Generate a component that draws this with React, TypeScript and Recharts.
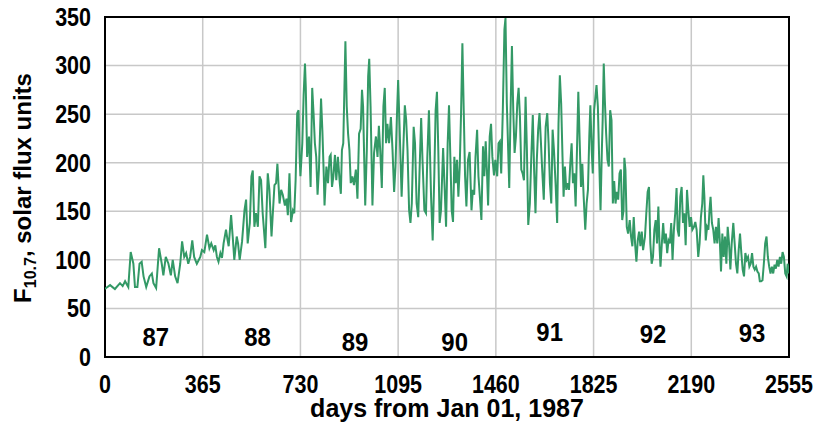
import {
  CartesianGrid,
  Line,
  LineChart,
  ReferenceArea,
  ReferenceDot,
  XAxis,
  YAxis,
} from "recharts";

// day index from Jan 01, 1987 and F10.7 flux
const days = [
  0, 4, 19, 37, 56, 66, 75, 87, 96, 106, 112, 121, 129, 137, 144, 154, 166, 175, 181, 191,
  202, 212, 218, 227, 237, 246, 253, 262, 271, 281, 288, 296, 303, 311, 318, 326, 333, 343, 356, 362,
  371, 381, 390, 397, 406,
  412, 418, 424, 431, 437, 443, 452, 458, 462, 471, 477, 483, 492, 497, 503, 512, 521, 527, 533, 541,
  547, 552, 558, 564, 571, 577, 583, 589, 599, 608, 614, 622, 633, 639, 644, 652, 658, 664, 672, 678,
  683, 689, 695, 702, 707, 712, 718, 723, 727, 730, 737, 742, 747, 750, 755, 762, 768, 774, 779, 784,
  789, 794, 799, 807, 812, 817, 820, 827, 833, 839,
  843, 848, 853, 859, 864, 870, 877, 881, 885, 890, 898, 903, 908, 913, 918, 924, 930, 937, 943, 949,
  955, 960, 964, 972, 978, 983, 987, 992, 999, 1005, 1012, 1018, 1023, 1028, 1034, 1040, 1045, 1050, 1055, 1061,
  1068, 1074, 1080, 1085, 1090, 1095, 1100, 1108, 1115, 1120, 1125, 1130, 1136, 1141, 1146, 1153, 1158, 1164, 1170, 1175,
  1181, 1186, 1193, 1199, 1204, 1210, 1218, 1224, 1230, 1235, 1240, 1245, 1250, 1255, 1263, 1268,
  1274, 1280, 1285, 1290, 1295, 1300, 1305, 1310, 1315, 1320, 1325, 1330, 1335, 1340, 1345, 1350, 1356, 1362, 1369, 1374,
  1379, 1384, 1390, 1395, 1401, 1406, 1412, 1417, 1422, 1427, 1431, 1437, 1442, 1447, 1453, 1458, 1465, 1470, 1475, 1480,
  1486, 1492, 1496, 1501, 1506, 1510, 1515, 1520, 1525, 1530, 1535, 1540, 1545, 1550, 1555, 1560, 1565, 1571, 1576, 1581,
  1587, 1592, 1598, 1603, 1608, 1613, 1618, 1623, 1628, 1633, 1639, 1646, 1652, 1657, 1662, 1667, 1672, 1677, 1683, 1689,
  1694, 1699, 1704, 1709,
  1713, 1718, 1723, 1728, 1733, 1738, 1743, 1748, 1753, 1758, 1763, 1768, 1773, 1778, 1783, 1788, 1794, 1799, 1804, 1809,
  1813, 1818, 1822, 1827, 1832, 1836, 1841, 1846, 1851, 1856, 1859, 1863, 1867, 1872, 1877, 1882, 1887, 1892, 1897, 1902,
  1907, 1912, 1917, 1922, 1927, 1932, 1937, 1940, 1944, 1949, 1954, 1960, 1965, 1970, 1975, 1980, 1985, 1990, 1995, 2000,
  2005, 2010, 2017, 2022, 2027, 2032, 2037, 2042, 2047, 2052, 2057, 2062, 2067, 2072, 2075, 2080, 2085, 2090, 2095, 2100,
  2105, 2110, 2115, 2120, 2125, 2130, 2135,
  2139, 2144, 2149, 2154, 2159, 2164, 2169, 2174, 2179, 2184, 2189, 2194, 2200, 2205, 2210, 2216, 2221, 2226, 2231, 2235,
  2239, 2244, 2249, 2254, 2258, 2262, 2267, 2272, 2277, 2282, 2287, 2292, 2297, 2301, 2306, 2311, 2316, 2321, 2326, 2331,
  2336, 2341, 2347, 2352, 2357, 2362, 2367, 2372, 2377, 2382, 2387, 2392, 2397, 2402, 2407, 2412, 2417, 2422, 2427, 2432,
  2437, 2442, 2446, 2451, 2456, 2461, 2466, 2471, 2476, 2481, 2486, 2491, 2496, 2501, 2506, 2511, 2516, 2521, 2526, 2531,
  2536, 2541, 2546, 2550, 2555,
];

const flux = [
  70, 71, 74, 70, 76, 73, 78, 72, 108, 96, 72, 72, 96, 98, 83, 72, 83, 86, 76, 71,
  112, 96, 84, 103, 96, 84, 100, 83, 76, 96, 119, 103, 107, 96, 103, 120, 103, 96, 103, 110,
  108, 126, 112, 117, 110,
  115, 103, 98, 107, 102, 117, 131, 120, 114, 146, 124, 100, 124, 117, 100, 119, 151, 162, 117, 138,
  186, 192, 134, 148, 134, 186, 182, 148, 112, 189, 172, 124, 177, 179, 199, 158, 172, 167, 156, 163,
  146, 189, 139, 151, 148, 182, 251, 254, 206, 186, 220, 270, 302, 278, 206, 227, 175, 277, 251, 220,
  206, 167, 192, 266, 233, 189, 156, 196, 179, 206,
  208, 175, 186, 208, 182, 206, 179, 168, 213, 220, 325, 258, 230, 213, 179, 186, 177, 193, 163, 230,
  235, 275, 258, 156, 213, 289, 307, 258, 156, 210, 227, 206, 238, 213, 174, 258, 277, 220, 240, 220,
  247, 213, 170, 196, 244, 285, 240, 165, 220, 259, 244, 213, 151, 138, 158, 237, 220, 158, 144, 192,
  246, 203, 151, 148, 206, 254, 165, 120, 186, 254, 273, 213, 138, 151, 215, 179,
  134, 220, 259, 206, 151, 139, 206, 179, 203, 165, 196, 251, 323, 254, 186, 155, 203, 211, 151, 172,
  167, 206, 234, 186, 162, 141, 217, 186, 222, 189, 156, 227, 240, 206, 187, 203, 186, 220, 222, 189,
  254, 337, 349, 261, 213, 174, 254, 320, 254, 210, 227, 261, 277, 247, 193, 189, 182, 268, 213, 136,
  158, 203, 249, 192, 148, 203, 234, 251, 223, 193, 162, 237, 251, 220, 179, 158, 234, 213, 179, 138,
  240, 290, 261, 206,
  165, 196, 172, 179, 172, 199, 220, 179, 189, 155, 213, 273, 223, 175, 199, 165, 131, 158, 172, 227,
  259, 213, 189, 254, 268, 280, 258, 203, 151, 213, 244, 302, 265, 230, 203, 196, 254, 244, 158, 181,
  158, 170, 162, 189, 193, 141, 151, 205, 193, 134, 127, 141, 124, 114, 144, 117, 98, 120, 129, 114,
  129, 110, 124, 148, 170, 175, 117, 96, 103, 131, 141, 117, 155, 110, 93, 117, 138, 117, 127, 107,
  120, 117, 138, 100, 131, 148, 174,
  131, 124, 165, 175, 138, 148, 115, 172, 151, 134, 144, 131, 134, 139, 131, 103, 117, 144, 158, 187,
  165, 120, 134, 131, 151, 165, 138, 131, 117, 134, 117, 143, 117, 88, 127, 103, 124, 96, 134, 117,
  90, 117, 138, 117, 96, 86, 110, 127, 107, 90, 83, 107, 100, 103, 93, 96, 107, 93, 90, 93,
  88, 86, 78, 78, 79, 96, 117, 124, 103, 93, 86, 93, 86, 95, 91, 100, 93, 103, 96, 108,
  103, 86, 83, 96, 86,
];

const xTicks = [0, 365, 730, 1095, 1460, 1825, 2190, 2555];
const yTicks = [0, 50, 100, 150, 200, 250, 300, 350];

const yearNames = ["87", "88", "89", "90", "91", "92", "93"];
const yearLabelDay = [190, 570, 934, 1306, 1661, 2047, 2417];
const yearLabelFlux = [21, 21, 16, 16, 26, 24, 25];

const data = days.map((day, i) => ({ day, flux: flux[i] }));

const FONT = '"Liberation Sans", Arial, sans-serif';
// reference uses a condensed bold face; squeeze Liberation Sans to match
const SQUEEZE = 0.86;

function XTick({ x, y, payload }: any) {
  return (
    <text
      transform={`translate(${x} ${y}) scale(${SQUEEZE} 1)`}
      dy="0.71em"
      textAnchor="middle"
      fontFamily={FONT}
      fontWeight="bold"
      fontSize={25}
      fill="#000"
    >
      {payload.value}
    </text>
  );
}

function YTick({ x, y, payload }: any) {
  return (
    <text
      transform={`translate(${x} ${y}) scale(${SQUEEZE} 1)`}
      dy="0.355em"
      textAnchor="end"
      fontFamily={FONT}
      fontWeight="bold"
      fontSize={25}
      fill="#000"
    >
      {payload.value}
    </text>
  );
}

function YTitle() {
  return (
    <text
      transform="translate(31 188) rotate(-90)"
      textAnchor="middle"
      fontFamily={FONT}
      fontWeight="bold"
      fontSize={24}
      fill="#000"
    >
      F
      <tspan fontSize={16} dy={5}>
        10.7
      </tspan>
      <tspan dy={-5}>, solar flux units</tspan>
    </text>
  );
}

function XTitle() {
  return (
    <text
      x={447}
      y={417}
      textAnchor="middle"
      fontFamily={FONT}
      fontWeight="bold"
      fontSize={25}
      fill="#000"
    >
      days from Jan 01, 1987
    </text>
  );
}

export default function App() {
  return (
    <div style={{ position: "absolute", left: 0, top: 0, background: "#fff" }}>
      <LineChart
        width={818}
        height={428}
        data={data}
        margin={{ top: 17, right: 29, bottom: 0, left: 0 }}
      >
        <CartesianGrid stroke="#c8c8c8" strokeWidth={1.5} />
        <XAxis
          dataKey="day"
          type="number"
          domain={[0, 2555]}
          ticks={xTicks}
          interval={0}
          allowDataOverflow
          axisLine={false}
          tickLine={false}
          tickSize={6}
          tickMargin={12}
          height={71}
          tick={<XTick />}
          label={<XTitle />}
        />
        <YAxis
          type="number"
          domain={[0, 350]}
          ticks={yTicks}
          interval={0}
          allowDataOverflow
          axisLine={false}
          tickLine={false}
          tickSize={6}
          tickMargin={8}
          width={105}
          tick={<YTick />}
          label={<YTitle />}
        />
        <ReferenceArea
          x1={0}
          x2={2555}
          y1={0}
          y2={350}
          fill="none"
          fillOpacity={0}
          stroke="#000"
          strokeWidth={2}
        />
        {yearNames.map((name, i) => (
          <ReferenceDot
            key={name}
            x={yearLabelDay[i]}
            y={yearLabelFlux[i]}
            r={0}
            shape={(p: any) => (
              <text
                transform={`translate(${p.cx} ${p.cy}) scale(0.92 1)`}
                dy="0.36em"
                textAnchor="middle"
                fontFamily={FONT}
                fontWeight="bold"
                fontSize={26}
                fill="#000"
              >
                {name}
              </text>
            )}
          />
        ))}
        <Line
          type="linear"
          dataKey="flux"
          stroke="#339966"
          strokeWidth={2}
          dot={false}
          isAnimationActive={false}
        />
      </LineChart>
    </div>
  );
}
